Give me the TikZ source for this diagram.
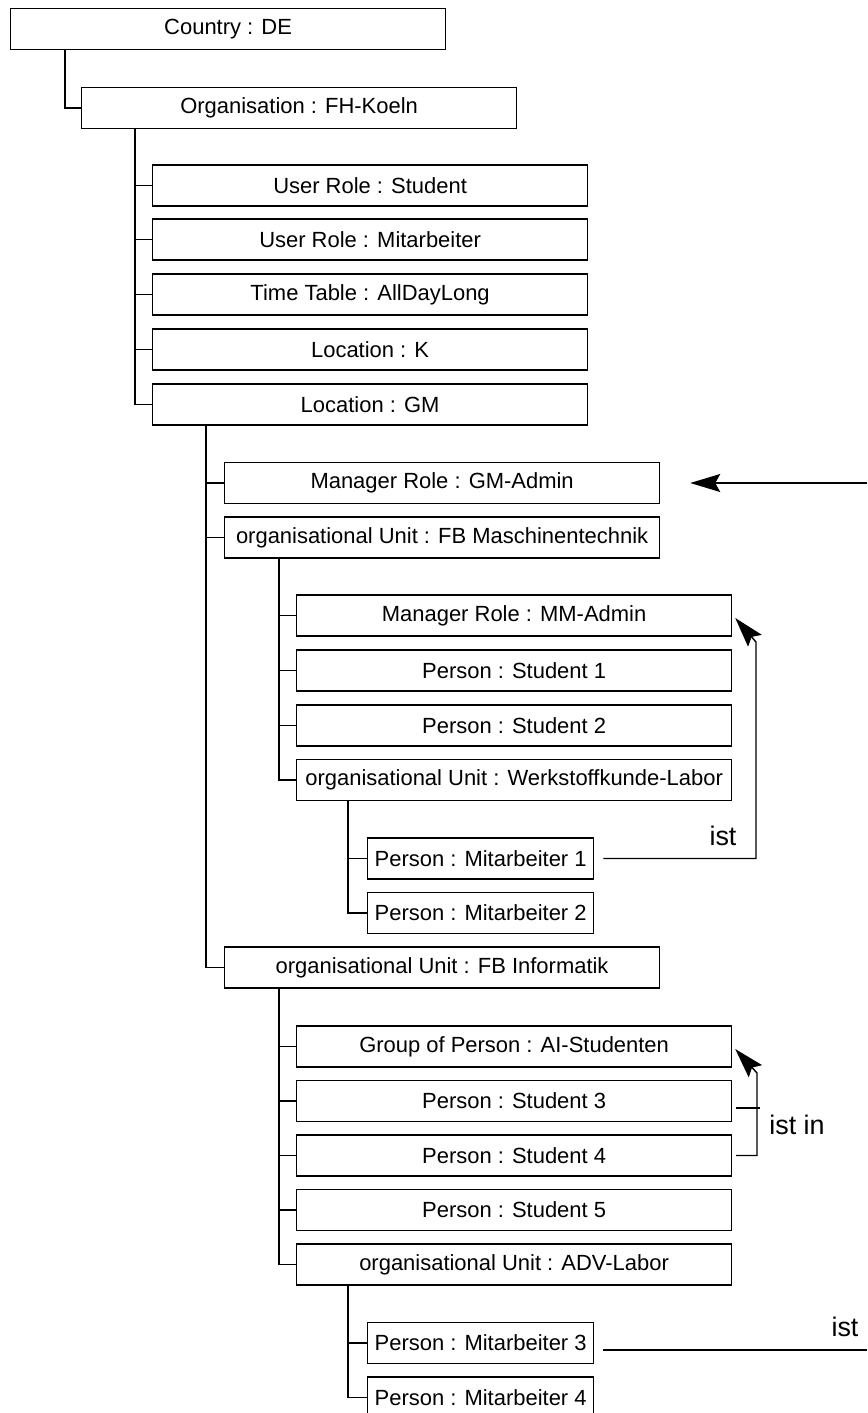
\documentclass[tikz,border=0pt]{standalone}
\usepackage{fontspec}
\setmainfont{Liberation Sans}
\usetikzlibrary{arrows.meta, calc}
\tikzset{
	entry/.style   ={rectangle, draw=black, line width=0.75pt, minimum width=8.7cm, minimum height=0.82cm, inner sep=0pt, anchor=west, text centered, font=\fontsize{12.5}{15}\selectfont},
	leaf/.style    ={entry, minimum width=4.52cm},
	branch/.style  ={line width=0.75pt},
	relarrow/.style={-{Stealth[length=6mm, width=3.6mm, inset=1mm]}, line width=0.8pt},
	rellabel/.style={font=\fontsize{15.3}{18}\selectfont},
}

\begin{document}
\begin{tikzpicture}[x=0.02cm, y=-0.02cm]
	\useasboundingbox (0,0) rectangle (867,1413);
	% top levels
	\node[entry] (country) at (10,29) {Country : DE};
	\node[entry] (org) at (81,108) {Organisation : FH-Koeln};
	\node[entry] (ur1) at (152,185.5) {User Role : Student};
	\node[entry] (ur2) at (152,239.5) {User Role : Mitarbeiter};
	\node[entry] (tt) at (152,294.5) {Time Table : AllDayLong};
	\node[entry] (lk) at (152,349.5) {Location : K};
	\node[entry] (lgm) at (152,404.5) {Location : GM};
	% location GM
	\node[entry] (mgm) at (224,483) {Manager Role : GM-Admin};
	\node[entry] (fbm) at (224,537.5) {organisational Unit : FB Maschinentechnik};
	\node[entry] (mmm) at (296,615.5) {Manager Role : MM-Admin};
	\node[entry] (st1) at (296,670.5) {Person : Student 1};
	\node[entry] (st2) at (296,725.5) {Person : Student 2};
	\node[entry] (wkl) at (296,780) {organisational Unit : Werkstoffkunde-Labor};
	\node[leaf] (mit1) at (367,858.5) {Person : Mitarbeiter 1};
	\node[leaf] (mit2) at (367,913) {Person : Mitarbeiter 2};
	\node[entry] (fbi) at (224,967.5) {organisational Unit : FB Informatik};
	\node[entry] (aig) at (296,1046.5) {Group of Person : AI-Studenten};
	\node[entry] (st3) at (296,1101) {Person : Student 3};
	\node[entry] (st4) at (296,1155.5) {Person : Student 4};
	\node[entry] (st5) at (296,1210) {Person : Student 5};
	\node[entry] (adv) at (296,1264.5) {organisational Unit : ADV-Labor};
	\node[leaf] (mit3) at (367,1343) {Person : Mitarbeiter 3};
	\node[leaf] (mit4) at (367,1397.5) {Person : Mitarbeiter 4};
	% tree lines
	\draw[branch] ($(country.south west)+(55,0)$) |- (org.west);
	\foreach \c in {ur1,ur2,tt,lk,lgm}
		\draw[branch] ($(org.south west)+(54,0)$) |- (\c.west);
	\foreach \c in {mgm,fbm,fbi}
		\draw[branch] ($(lgm.south west)+(54,0)$) |- (\c.west);
	\foreach \c in {mmm,st1,st2,wkl}
		\draw[branch] ($(fbm.south west)+(55,0)$) |- (\c.west);
	\foreach \c in {mit1,mit2}
		\draw[branch] ($(wkl.south west)+(52,0)$) |- (\c.west);
	\foreach \c in {aig,st3,st4,st5,adv}
		\draw[branch] ($(fbi.south west)+(55,0)$) |- (\c.west);
	\foreach \c in {mit3,mit4}
		\draw[branch] ($(adv.south west)+(52,0)$) |- (\c.west);
	% relations
	\coordinate (out1) at (867,483);
	\draw[relarrow] (out1) -- ($(mgm.east)+(30,0)$);
	\coordinate (k1) at (756,642);
	\draw[relarrow] ($(mit1.east)+(9,0)$) -| (k1) -- ($(mmm.east)+(3,2.5)$);
	\node[rellabel] (ist1) at (723,836) {ist};
	\coordinate (k2) at (757,1073);
	\draw[branch] ($(st3.east)+(4,7)$) -- ($(st3.east)+(28,7)$);
	\draw[relarrow] ($(st4.east)+(4,0)$) -| (k2) -- ($(aig.east)+(3,2.5)$);
	\node[rellabel] (ist2) at (797,1125) {ist in};
	\coordinate (out3) at (867,1350);
	\draw[branch] ($(mit3.east)+(9,7)$) -- (out3);
	\node[rellabel] (ist3) at (845,1327) {ist};
\end{tikzpicture}
\end{document}
